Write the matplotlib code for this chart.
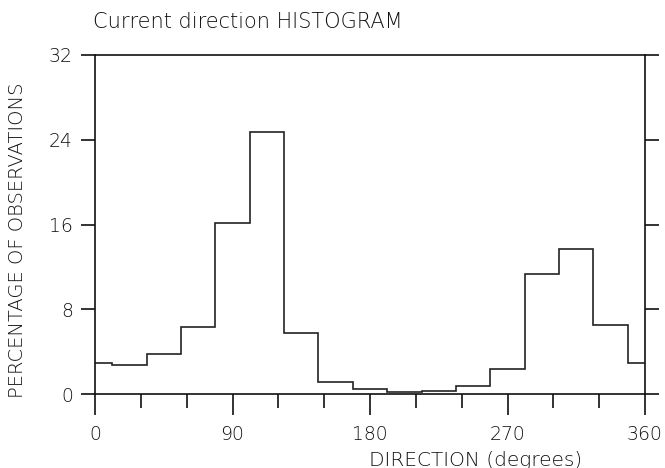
import numpy as np
import matplotlib
matplotlib.use("Agg")
import matplotlib.pyplot as plt

# Percentage of observations per 22.5-degree direction sector (centred on 0, 22.5, ... 337.5)
sector_centres = [0, 22.5, 45, 67.5, 90, 112.5, 135, 157.5,
                  180, 202.5, 225, 247.5, 270, 292.5, 315, 337.5]
sector_pct = [2.9, 2.77, 3.75, 6.35, 16.1, 24.7, 5.8, 1.13,
              0.47, 0.22, 0.28, 0.75, 2.4, 11.3, 13.7, 6.5]

x_major = [0, 90, 180, 270, 360]
x_minor = [30, 60, 120, 150, 210, 240, 300, 330]
y_ticks = [0, 8, 16, 24, 32]

# North sector straddles 0/360, so split it into two half-width pieces
half = 22.5 / 2
edges = [0.0] + [c + half for c in sector_centres[:-1]] + [sector_centres[-1] + half, 360.0]
heights = list(sector_pct) + [sector_pct[0]]

plt.rcParams["font.family"] = ["DejaVu Sans"]
plt.rcParams["font.weight"] = "light"
text_color = "#111111"

fig = plt.figure(figsize=(6.65, 4.68), dpi=100)
ax = fig.add_axes([95 / 665, 1 - 394 / 468, 550 / 665, 339 / 468])

ax.stairs(heights, edges, color="#222222", linewidth=1.2, baseline=None)

ax.set_xlim(0, 360)
ax.set_ylim(0, 32)

for s in ax.spines.values():
    s.set_linewidth(1.2)
    s.set_color("#111111")

ax.set_xticks(x_major)
ax.set_xticks(x_minor, minor=True)
ax.set_xticklabels([str(v) for v in x_major])
ax.set_yticks(y_ticks)
ax.set_yticklabels([str(v) for v in y_ticks])

ax.tick_params(axis="x", which="major", direction="out", length=15, width=1.2,
               color="#111111", labelsize=13.5, labelcolor=text_color, pad=7, top=False)
ax.tick_params(axis="x", which="minor", direction="out", length=10, width=1.2,
               color="#111111", top=False)
ax.tick_params(axis="y", which="major", direction="out", length=10, width=1.2,
               color="#111111", labelsize=13.5, labelcolor=text_color, pad=6,
               right=True, left=True)

fig.text(93 / 665, 1 - 22 / 468, "Current direction HISTOGRAM",
         fontsize=15, ha="left", va="center", color=text_color)
fig.text(476 / 665, 1 - 460 / 468, "DIRECTION (degrees)",
         fontsize=14.5, ha="center", va="center", color=text_color)
fig.text(18 / 665, 1 - 240 / 468, "PERCENTAGE OF OBSERVATIONS",
         fontsize=14, ha="center", va="center", rotation=90, color=text_color)

fig.savefig("out.png", dpi=100)
